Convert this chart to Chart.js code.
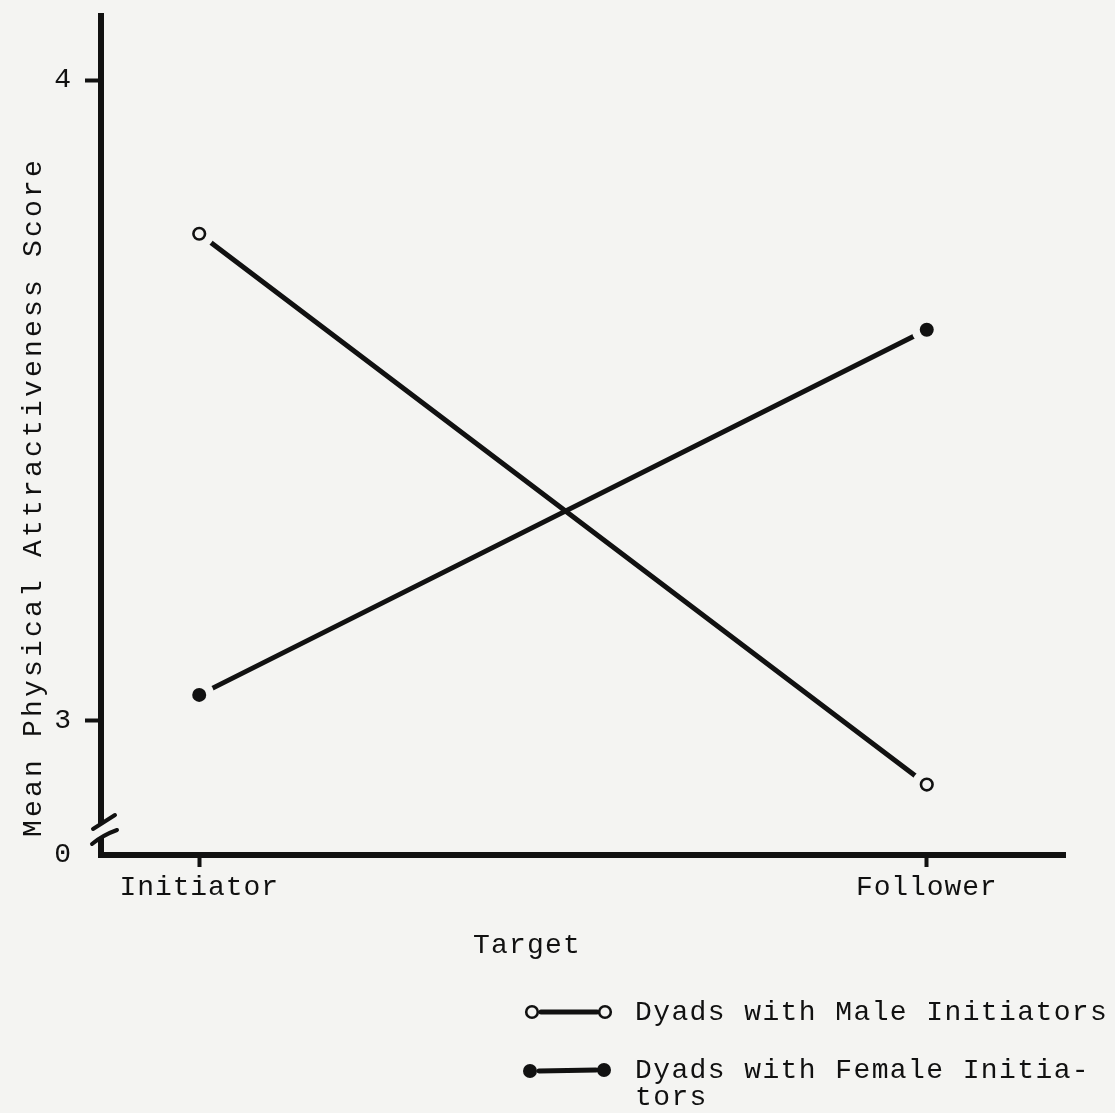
<!DOCTYPE html>
<html><head><meta charset="utf-8">
<script src="https://cdn.jsdelivr.net/npm/chart.js@4.4.1/dist/chart.umd.min.js"></script>
<style>html,body{margin:0;padding:0;background:#f4f4f2;}#wrap{position:relative;width:1115px;height:1113px;}</style>
</head><body><div id="wrap"><canvas id="c" width="1115" height="1113"></canvas></div>
<script>
// ---- data ----
const categories = ['Initiator', 'Follower'];
const maleInitiators = [3.76, 2.90];
const femaleInitiators = [3.04, 3.61];
const yTickValues = [3, 4];
const yBreakLabel = '0';
const yMin = 2.79, yMax = 4.1;
const xMin = -0.135, xMax = 1.19;
const xTitle = 'Target';
const yTitle = 'Mean Physical Attractiveness Score';
const legendMale = 'Dyads with Male Initiators';
const legendFemale = ['Dyads with Female Initia-', 'tors'];

// ---- style ----
const INK = '#111';
const PAPER = '#f4f4f2';
const FAM = "'Liberation Mono', 'DejaVu Sans Mono', monospace";
const FS = 28;

const toPts = arr => arr.map((v, i) => ({x: i, y: v}));

const spacingPlugin = {
  id: 'spacing',
  beforeLayout(chart) { chart.ctx.letterSpacing = '0.9px'; },
  beforeDraw(chart) {
    const ctx = chart.ctx;
    ctx.save();
    ctx.fillStyle = PAPER;
    ctx.fillRect(0, 0, chart.width, chart.height);
    ctx.restore();
    ctx.letterSpacing = '0.9px';
  }
};

function drawMarker(ctx, x, y, filled) {
  ctx.save();
  ctx.beginPath();
  if (filled) {
    ctx.arc(x, y, 7, 0, Math.PI * 2);
    ctx.fillStyle = INK; ctx.fill();
  } else {
    ctx.arc(x, y, 5.8, 0, Math.PI * 2);
    ctx.fillStyle = PAPER; ctx.fill();
    ctx.lineWidth = 2.6; ctx.strokeStyle = INK; ctx.stroke();
  }
  ctx.restore();
}

const markerPlugin = {
  id: 'markers',
  afterDatasetsDraw(chart) {
    const ctx = chart.ctx;
    ctx.save();
    chart.data.datasets.forEach((ds, i) => {
      const meta = chart.getDatasetMeta(i);
      meta.data.forEach(el => {
        ctx.beginPath();
        ctx.arc(el.x, el.y, 15, 0, Math.PI * 2);
        ctx.fillStyle = PAPER; ctx.fill();
        drawMarker(ctx, el.x, el.y, ds.filledMarker);
      });
    });
    ctx.restore();
  }
};

function legendLine(ctx, x1, y1, x2, y2) {
  ctx.save();
  ctx.strokeStyle = INK; ctx.lineWidth = 5; ctx.lineCap = 'round';
  ctx.beginPath(); ctx.moveTo(x1, y1); ctx.lineTo(x2, y2); ctx.stroke();
  ctx.restore();
}

const decoPlugin = {
  id: 'deco',
  afterDraw(chart) {
    const ctx = chart.ctx;
    const a = chart.chartArea;
    const L = a.left, B = a.bottom;
    ctx.save();
    // axis break
    ctx.beginPath();
    ctx.moveTo(L - 8, B - 26); ctx.lineTo(L + 14, B - 40);
    ctx.lineTo(L + 16, B - 25); ctx.lineTo(L - 9, B - 11);
    ctx.closePath();
    ctx.fillStyle = PAPER; ctx.fill();
    ctx.strokeStyle = INK; ctx.lineWidth = 4; ctx.lineCap = 'round';
    ctx.beginPath(); ctx.moveTo(L - 8, B - 26); ctx.lineTo(L + 14, B - 40); ctx.stroke();
    ctx.beginPath(); ctx.moveTo(L - 9, B - 11); ctx.quadraticCurveTo(L + 2, B - 20, L + 16, B - 25); ctx.stroke();

    // titles
    ctx.fillStyle = INK;
    ctx.font = FS + 'px ' + FAM;
    ctx.letterSpacing = '1.2px';
    ctx.textAlign = 'center';
    ctx.textBaseline = 'alphabetic';
    ctx.fillText(xTitle, 527, 953);
    ctx.save();
    ctx.translate(41, 497);
    ctx.rotate(-Math.PI / 2);
    ctx.letterSpacing = '3.2px';
    ctx.fillText(yTitle, 0, 0);
    ctx.restore();

    // legend
    ctx.letterSpacing = '1.4px';
    ctx.textAlign = 'left';
    legendLine(ctx, 541, 1012, 597, 1012);
    drawMarker(ctx, 532, 1012, false);
    drawMarker(ctx, 605, 1012, false);
    ctx.fillStyle = INK;
    ctx.fillText(legendMale, 635, 1020);
    legendLine(ctx, 539, 1071, 596, 1070);
    drawMarker(ctx, 530, 1071, true);
    drawMarker(ctx, 604, 1070, true);
    ctx.fillStyle = INK;
    ctx.fillText(legendFemale[0], 635, 1078);
    ctx.fillText(legendFemale[1], 635, 1105);
    ctx.restore();
  }
};

new Chart(document.getElementById('c'), {
  type: 'line',
  data: {
    datasets: [
      {label: 'Dyads with Male Initiators', data: toPts(maleInitiators), filledMarker: false,
       borderColor: INK, borderWidth: 5, pointRadius: 0, borderCapStyle: 'round', tension: 0},
      {label: 'Dyads with Female Initiators', data: toPts(femaleInitiators), filledMarker: true,
       borderColor: INK, borderWidth: 5, pointRadius: 0, borderCapStyle: 'round', tension: 0}
    ]
  },
  options: {
    responsive: false,
    animation: false,
    devicePixelRatio: 1,
    layout: {padding: {top: 16, right: 50, left: 0, bottom: 0}},
    plugins: {legend: {display: false}, tooltip: {enabled: false}},
    scales: {
      x: {
        type: 'linear', min: xMin, max: xMax,
        afterBuildTicks: s => { s.ticks = categories.map((c, i) => ({value: i})); },
        afterFit: s => { s.height = 258; s.paddingLeft = 0; s.paddingRight = 0; },
        ticks: {callback: v => categories[v], color: INK, font: {family: FAM, size: FS}, padding: 4, maxRotation: 0, autoSkip: false},
        grid: {drawOnChartArea: false, tickLength: 12, tickWidth: 4, tickColor: INK},
        border: {color: INK, width: 6}
      },
      y: {
        type: 'linear', min: yMin, max: yMax,
        afterBuildTicks: s => { s.ticks = [{value: yMin}].concat(yTickValues.map(v => ({value: v}))); },
        afterFit: s => { s.width = 101; s.paddingTop = 0; s.paddingBottom = 0; },
        ticks: {callback: v => (v === yMin ? yBreakLabel : String(v)), color: INK, font: {family: FAM, size: FS}, padding: 13},
        grid: {drawOnChartArea: false, tickLength: 16, tickWidth: 4,
               tickColor: c => (c.tick && c.tick.value === yMin ? 'rgba(0,0,0,0)' : INK)},
        border: {color: INK, width: 6}
      }
    }
  },
  plugins: [spacingPlugin, markerPlugin, decoPlugin]
});
</script></body></html>
